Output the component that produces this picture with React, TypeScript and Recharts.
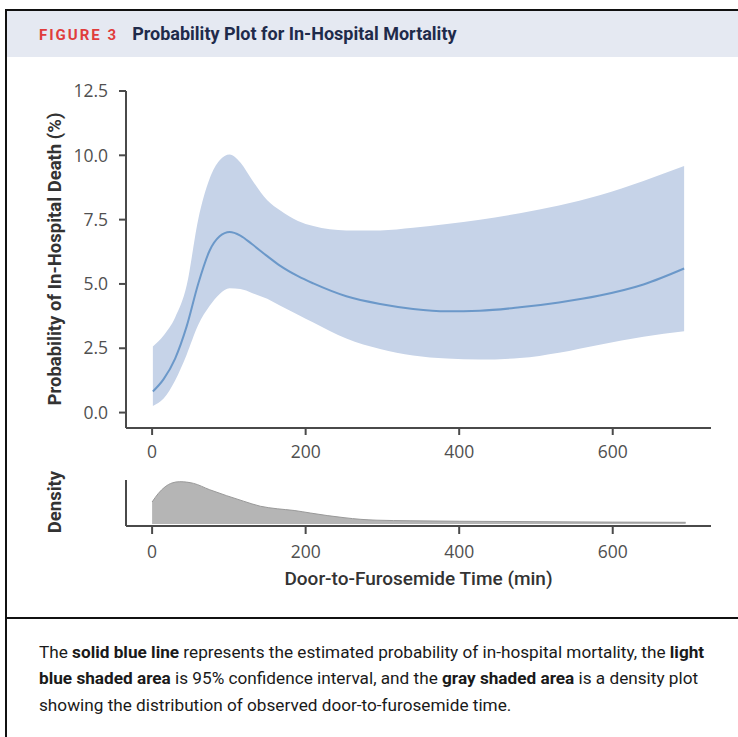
import { Area, ComposedChart, Line, XAxis, YAxis } from 'recharts';

// door-to-furosemide time (min) and model estimates (%)
const minutes = [1, 15, 30, 45, 60, 75, 88, 101, 115, 130, 150, 167, 190, 210, 253, 297, 340, 384, 427, 479, 530, 583, 640, 693];
const estimate = [0.82, 1.3, 2.1, 3.35, 5.0, 6.3, 6.85, 7.02, 6.88, 6.55, 6.08, 5.7, 5.3, 5.02, 4.52, 4.22, 4.03, 3.94, 3.96, 4.09, 4.28, 4.55, 4.98, 5.6];
const lowerCI = [0.26, 0.55, 1.25, 2.25, 3.4, 4.15, 4.61, 4.83, 4.8, 4.65, 4.42, 4.15, 3.8, 3.5, 2.88, 2.47, 2.22, 2.1, 2.06, 2.12, 2.33, 2.64, 2.95, 3.16];
const upperCI = [2.57, 3.0, 3.7, 4.94, 7.5, 9.1, 9.81, 10.03, 9.72, 9.05, 8.25, 7.85, 7.45, 7.25, 7.08, 7.08, 7.18, 7.33, 7.5, 7.75, 8.05, 8.45, 9.0, 9.58];

// density of observed times (relative to peak)
const densityMinutes = [0, 8, 17, 26, 36, 45, 54, 75, 97, 119, 141, 163, 185, 206, 228, 250, 272, 293, 336, 400, 500, 600, 695];
const densityValues = [0.52, 0.72, 0.88, 0.97, 1.0, 0.99, 0.96, 0.81, 0.67, 0.54, 0.42, 0.36, 0.32, 0.26, 0.2, 0.15, 0.11, 0.09, 0.077, 0.065, 0.055, 0.045, 0.04];

const xTicks = [0, 200, 400, 600];
const yTicks = [0, 2.5, 5, 7.5, 10, 12.5];

const mainData = minutes.map((m, i) => ({ m, est: estimate[i], ci: [lowerCI[i], upperCI[i]] }));
const densityData = densityMinutes.map((m, i) => ({ m, d: densityValues[i] }));

const X_DOMAIN: [number, number] = [-34, 728];
const AXIS = '#4a4a4a';
const TICK_FONT = "'Open Sans', sans-serif";
const TEXT_FONT = "Roboto, 'Open Sans', sans-serif";

const tickStyle = { fill: '#505050', fontSize: 17.5, fontFamily: TICK_FONT };
const axisLine = { stroke: AXIS, strokeWidth: 2 };
const tickLine = { stroke: AXIS, strokeWidth: 2 };

export default function App() {
  return (
    <div style={{ position: 'absolute', left: 0, top: 0, width: 738, height: 737, overflow: 'hidden', background: '#fff' }}>
      {/* outer frame + header */}
      <div style={{ position: 'absolute', left: 5, top: 9, width: 760, height: 760, borderLeft: '2px solid #111', borderTop: '2px solid #111' }} />
      <div style={{ position: 'absolute', left: 7, top: 11, width: 740, height: 46, background: '#e5e9f2' }} />
      <div style={{ position: 'absolute', left: 39, top: 23, whiteSpace: 'nowrap', fontFamily: TEXT_FONT }}>
        <span style={{ color: '#e03c3c', fontWeight: 700, fontSize: 15, letterSpacing: 2 }}>FIGURE 3</span>
        <span style={{ color: '#1f2b4b', fontWeight: 700, fontSize: 18, marginLeft: 14 }}>Probability Plot for In-Hospital Mortality</span>
      </div>

      {/* main probability plot */}
      <div style={{ position: 'absolute', left: 0, top: 0 }}>
        <ComposedChart width={738} height={470} data={mainData} margin={{ top: 91, right: 27, left: 66, bottom: 0 }}>
          <XAxis dataKey="m" type="number" domain={X_DOMAIN} ticks={xTicks} allowDataOverflow height={42}
            axisLine={axisLine} tickLine={tickLine} tickSize={7} tickMargin={11} tick={tickStyle} />
          <XAxis xAxisId="top" orientation="top" type="number" domain={X_DOMAIN} height={0}
            axisLine={axisLine} tick={false} tickLine={false} />
          <YAxis type="number" domain={[-0.6, 12.5]} ticks={yTicks} allowDataOverflow width={60}
            axisLine={axisLine} tickLine={tickLine} tickSize={7} tickMargin={11} tick={tickStyle}
            tickFormatter={(v: number) => v.toFixed(1)} />
          <YAxis yAxisId="right" orientation="right" type="number" domain={[0, 1]} width={0}
            axisLine={axisLine} tick={false} tickLine={false} />
          <Area dataKey="ci" type="monotone" fill="#c6d3e8" fillOpacity={1} stroke="none" isAnimationActive={false} />
          <Line dataKey="est" type="monotone" stroke="#6b98c9" strokeWidth={2} dot={false} isAnimationActive={false} />
        </ComposedChart>
      </div>

      {/* density plot */}
      <div style={{ position: 'absolute', left: 0, top: 470 }}>
        <ComposedChart width={738} height={100} data={densityData} margin={{ top: 10, right: 27, left: 66, bottom: 0 }}>
          <XAxis dataKey="m" type="number" domain={X_DOMAIN} ticks={xTicks} allowDataOverflow height={44}
            axisLine={axisLine} tickLine={tickLine} tickSize={8} tickMargin={12} tick={tickStyle} />
          <YAxis type="number" domain={[-0.047, 1.04]} allowDataOverflow width={60}
            axisLine={axisLine} tick={false} tickLine={false} />
          <Area dataKey="d" type="monotone" fill="#b5b5b5" fillOpacity={1} stroke="#999" strokeWidth={1} isAnimationActive={false} />
        </ComposedChart>
      </div>

      {/* axis titles */}
      <div style={{ position: 'absolute', left: 55, top: 259, transform: 'translate(-50%, -50%) rotate(-90deg)', whiteSpace: 'nowrap',
        fontFamily: TEXT_FONT, fontWeight: 700, fontSize: 18.5, color: '#333' }}>
        Probability of In-Hospital Death (%)
      </div>
      <div style={{ position: 'absolute', left: 55, top: 502, transform: 'translate(-50%, -50%) rotate(-90deg)', whiteSpace: 'nowrap',
        fontFamily: TEXT_FONT, fontWeight: 700, fontSize: 18.5, color: '#333' }}>
        Density
      </div>
      <div style={{ position: 'absolute', left: 126, width: 585, top: 567, textAlign: 'center',
        fontFamily: TEXT_FONT, fontWeight: 500, fontSize: 19, color: '#333' }}>
        Door-to-Furosemide Time (min)
      </div>

      {/* caption */}
      <div style={{ position: 'absolute', left: 5, top: 617, width: 760, borderTop: '2px solid #111' }} />
      <div style={{ position: 'absolute', left: 39, top: 639, whiteSpace: 'nowrap', fontFamily: TEXT_FONT, fontSize: 17.2,
        lineHeight: '26.3px', color: '#1a1a1a' }}>
        The <b>solid blue line</b> represents the estimated probability of in-hospital mortality, the <b>light</b><br />
        <b>blue shaded area</b> is 95% confidence interval, and the <b>gray shaded area</b> is a density plot<br />
        showing the distribution of observed door-to-furosemide time.
      </div>
    </div>
  );
}
